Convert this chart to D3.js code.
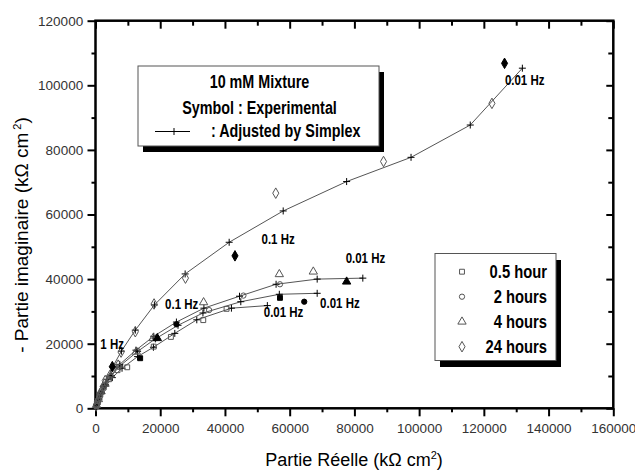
<!DOCTYPE html>
<html>
<head>
<meta charset="utf-8">
<script src="https://cdn.jsdelivr.net/npm/d3@7"></script>
<style>
body { margin: 0; background: #fff; }
.lab { font-family: "Liberation Sans Narrow", "Arial Narrow", "Liberation Sans", Arial, sans-serif; font-weight: bold; }
.tick text { font-family: "Liberation Sans", Arial, sans-serif; font-size: 13.5px; fill: #333; }
</style>
</head>
<body>
<svg width="635" height="473"></svg>
<script>
const svg = d3.select('svg')

// experimental points [Z', -Z''] in kOhm cm2
const exp05 = [[300,700],[800,2200],[1500,4200],[2500,6400],[4200,9000],[6800,11800],[9800,12700],[13800,15500],[18000,19100],[23300,22100],[33300,27300],[40500,30800],[57000,34200]]
const exp2 = [[300,900],[900,2600],[1700,4800],[2800,7100],[4600,9800],[7200,12800],[13000,17800],[18500,21800],[25000,26000],[35100,30400],[45700,34900],[57000,38400],[64500,33000]]
const exp4 = [[300,1000],[900,2800],[1700,5200],[2800,7600],[4500,10400],[7000,13500],[12600,17500],[17800,21700],[19100,21700],[33400,32800],[56800,41500],[67300,42300],[77600,39200]]
const exp24 = [[200,700],[600,1800],[1200,3500],[2000,5600],[3000,8600],[5200,12900],[7900,17400],[12300,23700],[18100,32300],[27800,40300],[43100,47200],[55700,66600],[89000,76400],[122500,94400],[126400,106800]]
// which experimental points are drawn filled (frequency marks)
const filled05 = [7, 12]
const filled2 = [8, 12]
const filled4 = [8, 12]
const filled24 = [5, 10, 14]

// Simplex fits
const fit05 = [[0,0],[400,1100],[1000,2700],[1900,4600],[3200,6900],[5200,9500],[8200,12400],[13000,16000],[17900,18900],[24500,23200],[31300,27400],[42000,31000],[53100,31800]]
const fit2 = [[0,0],[400,1200],[1000,2900],[1800,4900],[3000,7200],[4800,9900],[7500,13100],[13000,17600],[18500,21500],[25500,25700],[33200,29500],[44900,33000],[56800,35300],[68500,35600]]
const fit4 = [[0,0],[400,1300],[1000,3000],[1800,5000],[3000,7400],[4800,10200],[7500,13600],[12500,18000],[18000,22300],[25000,26700],[33500,31000],[44500,34700],[55800,38400],[68500,40000],[82600,40300]]
const fit24 = [[0,0],[300,1000],[800,2600],[1500,4500],[2400,6700],[3500,9000],[5300,12800],[8000,17700],[12300,24200],[18200,32000],[27700,41600],[41300,51400],[58000,61100],[77600,70200],[97500,77700],[115800,87700],[131900,105300]]

const seriesNames = ['0.5 hour', '2 hours', '4 hours', '24 hours']
const xTicks = [0, 20000, 40000, 60000, 80000, 100000, 120000, 140000, 160000]
const yTicks = [0, 20000, 40000, 60000, 80000, 100000, 120000]

// frequency annotations: [text, x, y] in data units
const notes = [['0.01 Hz', 126500, 100000], ['0.1 Hz', 51300, 51000], ['1 Hz', 1500, 18500],
               ['0.1 Hz', 21500, 30600], ['0.01 Hz', 52000, 28200], ['0.01 Hz', 69400, 31000], ['0.01 Hz', 77300, 45100]]

const symTypes = [d3.symbolSquare, d3.symbolCircle, d3.symbolTriangle, d3.symbolDiamond]
const symSizes = [24, 22, 30, 32]

const x = d3.scaleLinear().domain([0, 160000]).range([95.5, 613.3])
const y = d3.scaleLinear().domain([0, 120000]).range([408.3, 20.7])

const minorX = d3.range(10000, 160000, 20000)
const minorY = d3.range(10000, 120000, 20000)

const axisG = svg.append('g')
const bottomAx = axisG.append('g').attr('transform', `translate(0,${y(0)})`)
bottomAx.call(d3.axisBottom(x).tickValues(xTicks).tickSize(8).tickFormat(d3.format('d')))
bottomAx.append('g').call(d3.axisBottom(x).tickValues(minorX).tickSize(4).tickFormat(''))
const leftAx = axisG.append('g').attr('transform', `translate(${x(0)},0)`)
leftAx.call(d3.axisLeft(y).tickValues(yTicks).tickSize(8).tickFormat(d3.format('d')))
leftAx.append('g').call(d3.axisLeft(y).tickValues(minorY).tickSize(4).tickFormat(''))
const topAx = axisG.append('g').attr('transform', `translate(0,${y(120000)})`)
topAx.call(d3.axisBottom(x).tickValues(xTicks).tickSize(8).tickFormat(''))
topAx.append('g').call(d3.axisBottom(x).tickValues(minorX).tickSize(5).tickFormat(''))
const rightAx = axisG.append('g').attr('transform', `translate(${x(160000)},0)`)
rightAx.call(d3.axisLeft(y).tickValues(yTicks).tickSize(7).tickFormat(''))
rightAx.append('g').call(d3.axisLeft(y).tickValues(minorY).tickSize(5).tickFormat(''))
axisG.selectAll('.domain').remove()
axisG.selectAll('.tick line').attr('stroke', '#000').attr('stroke-width', 2)
bottomAx.selectAll('.tick text').attr('dy', '1.05em')
leftAx.selectAll('.tick text').attr('dx', '-0.1em')

svg.append('rect')
    .attr('x', x(0)).attr('y', y(120000))
    .attr('width', x(160000) - x(0)).attr('height', y(0) - y(120000))
    .attr('fill', 'none').attr('stroke', '#000').attr('stroke-width', 2.5)

const plot = svg.append('g')
const line = d3.line().x(d => x(d[0])).y(d => y(d[1]))
const plus = 'M-3.5,0H3.5M0,-3.5V3.5'

const fits = [fit05, fit2, fit4, fit24]
fits.forEach(f => {
    plot.append('path').attr('d', line(f))
        .attr('fill', 'none').attr('stroke', '#555').attr('stroke-width', 1)
    plot.selectAll(null).data(f.slice(1)).enter().append('path')
        .attr('d', plus)
        .attr('transform', d => `translate(${x(d[0])},${y(d[1])})`)
        .attr('stroke', '#000').attr('stroke-width', 1)
})

const exps = [exp05, exp2, exp4, exp24]
const filled = [filled05, filled2, filled4, filled24]
exps.forEach((e, i) => {
    plot.selectAll(null).data(e).enter().append('path')
        .attr('d', d3.symbol().type(symTypes[i]).size(symSizes[i]))
        .attr('transform', d => `translate(${x(d[0])},${y(d[1])})`)
        .attr('fill', (d, j) => filled[i].includes(j) ? '#000' : 'none')
        .attr('stroke', (d, j) => filled[i].includes(j) ? '#000' : '#555')
        .attr('stroke-width', 1)
})

svg.selectAll('.note').data(notes).enter().append('text')
    .attr('class', 'lab')
    .attr('x', d => x(d[1])).attr('y', d => y(d[2]))
    .attr('font-size', 14)
    .text(d => d[0])

// title legend box
svg.append('rect').attr('x', 143).attr('y', 72).attr('width', 241).attr('height', 80).attr('fill', '#000')
svg.append('rect').attr('x', 138).attr('y', 66).attr('width', 241).attr('height', 80)
    .attr('fill', '#fff').attr('stroke', '#555').attr('stroke-width', 1)
const leg1 = svg.append('g').attr('font-size', 17.5)
leg1.append('text').attr('class', 'lab').attr('x', 259.5).attr('y', 88).attr('text-anchor', 'middle').text('10 mM Mixture')
leg1.append('text').attr('class', 'lab').attr('x', 259.5).attr('y', 114).attr('text-anchor', 'middle').text('Symbol : Experimental')
leg1.append('text').attr('class', 'lab').attr('x', 211).attr('y', 137).text(': Adjusted by Simplex')
leg1.append('line').attr('x1', 155).attr('x2', 190).attr('y1', 131.5).attr('y2', 131.5).attr('stroke', '#000')
leg1.append('path').attr('d', plus).attr('transform', 'translate(174,131.5)').attr('stroke', '#000')

// series legend box
svg.append('rect').attr('x', 440).attr('y', 260).attr('width', 121).attr('height', 107).attr('fill', '#000')
svg.append('rect').attr('x', 435).attr('y', 253.5).attr('width', 121).attr('height', 107)
    .attr('fill', '#fff').attr('stroke', '#555').attr('stroke-width', 1)
const leg2 = svg.append('g').attr('font-size', 18)
seriesNames.forEach((s, i) => {
    const cy = 271.7 + i * 25
    leg2.append('path').attr('d', d3.symbol().type(symTypes[i]).size(symSizes[i]))
        .attr('transform', `translate(462,${cy})`)
        .attr('fill', 'none').attr('stroke', '#555')
    leg2.append('text').attr('class', 'lab').attr('x', 547).attr('y', cy + 6.3).attr('text-anchor', 'end').text(s)
})

// the original uses a narrow bold face: squeeze the bold text horizontally
svg.selectAll('text.lab').each(function() {
    const w = this.getComputedTextLength()
    d3.select(this).attr('textLength', w * 0.82).attr('lengthAdjust', 'spacingAndGlyphs')
})

svg.append('text')
    .attr('x', 354).attr('y', 466)
    .attr('text-anchor', 'middle')
    .attr('font-family', '"Liberation Sans", Arial, sans-serif').attr('font-size', 18)
    .html('Partie Réelle (kΩ cm<tspan dy="-7" font-size="11">2</tspan><tspan dy="7">)</tspan>')

svg.append('text')
    .attr('transform', 'translate(28,235) rotate(-90)')
    .attr('text-anchor', 'middle')
    .attr('font-family', '"Liberation Sans", Arial, sans-serif').attr('font-size', 19)
    .html('- Partie imaginaire (kΩ cm<tspan dy="-7" font-size="11"> 2</tspan><tspan dy="7">)</tspan>')
</script>
</body>
</html>
